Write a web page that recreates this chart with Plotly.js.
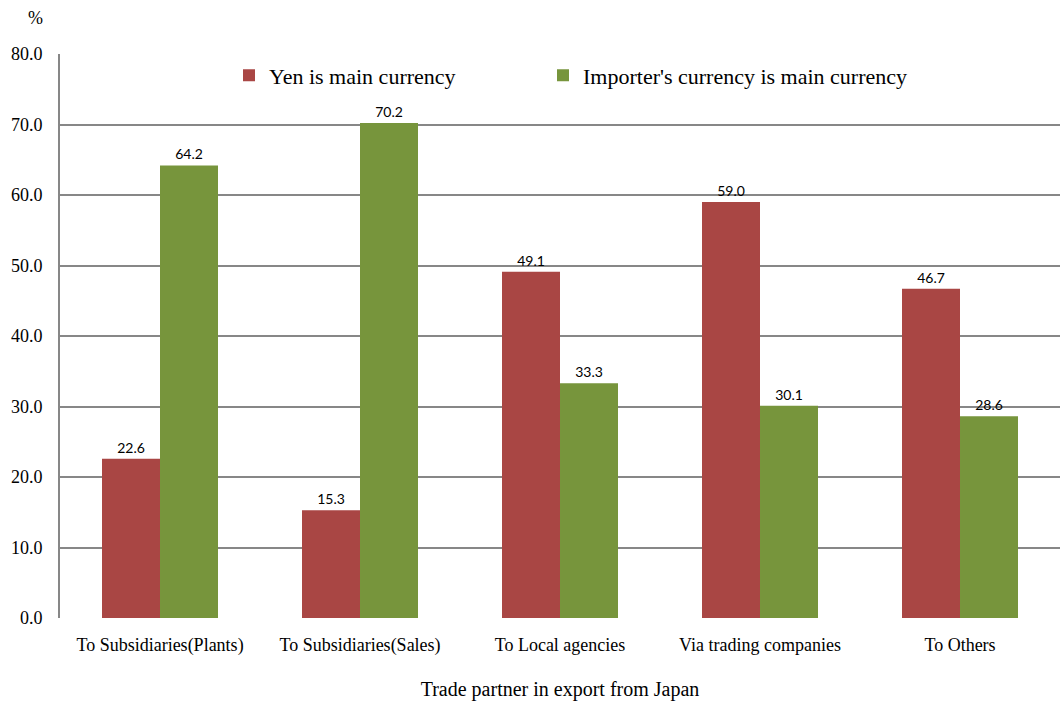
<!DOCTYPE html>
<html>
<head>
<meta charset="utf-8">
<script src="https://cdn.plot.ly/plotly-3.0.1.min.js"></script>
<style>html,body{margin:0;padding:0;background:#fff;}#chart{width:1060px;height:704px;}</style>
</head>
<body>
<div id="chart"></div>
<script>
var categories = ["To Subsidiaries(Plants)", "To Subsidiaries(Sales)", "To Local agencies", "Via trading companies", "To Others"];
var yenValues = [22.6, 15.3, 49.1, 59.0, 46.7];
var importerValues = [64.2, 70.2, 33.3, 30.1, 28.6];
var seriesNames = ["Yen is main currency", "Importer's currency is main currency"];
var yTickVals = [0, 10, 20, 30, 40, 50, 60, 70, 80];

var labelFont = {family: "Lato", size: 14, color: "#000"};
var serif = "Liberation Serif";

var traces = [
  {
    type: "bar", name: seriesNames[0], x: categories, y: yenValues,
    marker: {color: "#A94644"},
    text: yenValues.map(function(v){return v.toFixed(1);}),
    textposition: "outside", textfont: labelFont, cliponaxis: false,
    legend: "legend", hoverinfo: "x+y"
  },
  {
    type: "bar", name: seriesNames[1], x: categories, y: importerValues,
    marker: {color: "#77953C"},
    text: importerValues.map(function(v){return v.toFixed(1);}),
    textposition: "outside", textfont: labelFont, cliponaxis: false,
    legend: "legend2", hoverinfo: "x+y"
  }
];

var legendBase = function(xpos) {
  return {
    orientation: "h", x: xpos, y: 0.999, xanchor: "left", yanchor: "top",
    font: {family: serif, size: 22, color: "#000"},
    bgcolor: "rgba(0,0,0,0)", borderwidth: 0
  };
};

var layout = {
  width: 1060, height: 704,
  margin: {l: 60, r: 0, t: 54, b: 86},
  paper_bgcolor: "#fff", plot_bgcolor: "#fff",
  font: {family: serif, color: "#000"},
  barmode: "group", bargap: 0.42, bargroupgap: 0,
  showlegend: true,
  legend: legendBase(0.169),
  legend2: legendBase(0.483),
  xaxis: {
    type: "category",
    tickfont: {family: serif, size: 18, color: "#000"},
    showline: false, showgrid: false, ticks: "", ticklabelstandoff: 14,
    title: {text: "Trade partner in export from Japan", font: {family: serif, size: 20, color: "#000"}, standoff: 26}
  },
  yaxis: {
    range: [0, 80], tickvals: yTickVals,
    ticktext: yTickVals.map(function(v){return v.toFixed(1);}),
    tickfont: {family: serif, size: 18, color: "#000"},
    showgrid: true, gridcolor: "#878787", gridwidth: 2,
    showline: true, linecolor: "#878787", linewidth: 2,
    zeroline: false, ticks: "", ticklabelstandoff: 12
  },
  annotations: [
    {text: "%", xref: "paper", yref: "paper", x: -0.025, y: 1.064, xanchor: "center", yanchor: "middle",
     showarrow: false, font: {family: serif, size: 18, color: "#000"}}
  ]
};

Plotly.newPlot("chart", traces, layout, {displayModeBar: false, staticPlot: true});
</script>
</body>
</html>
